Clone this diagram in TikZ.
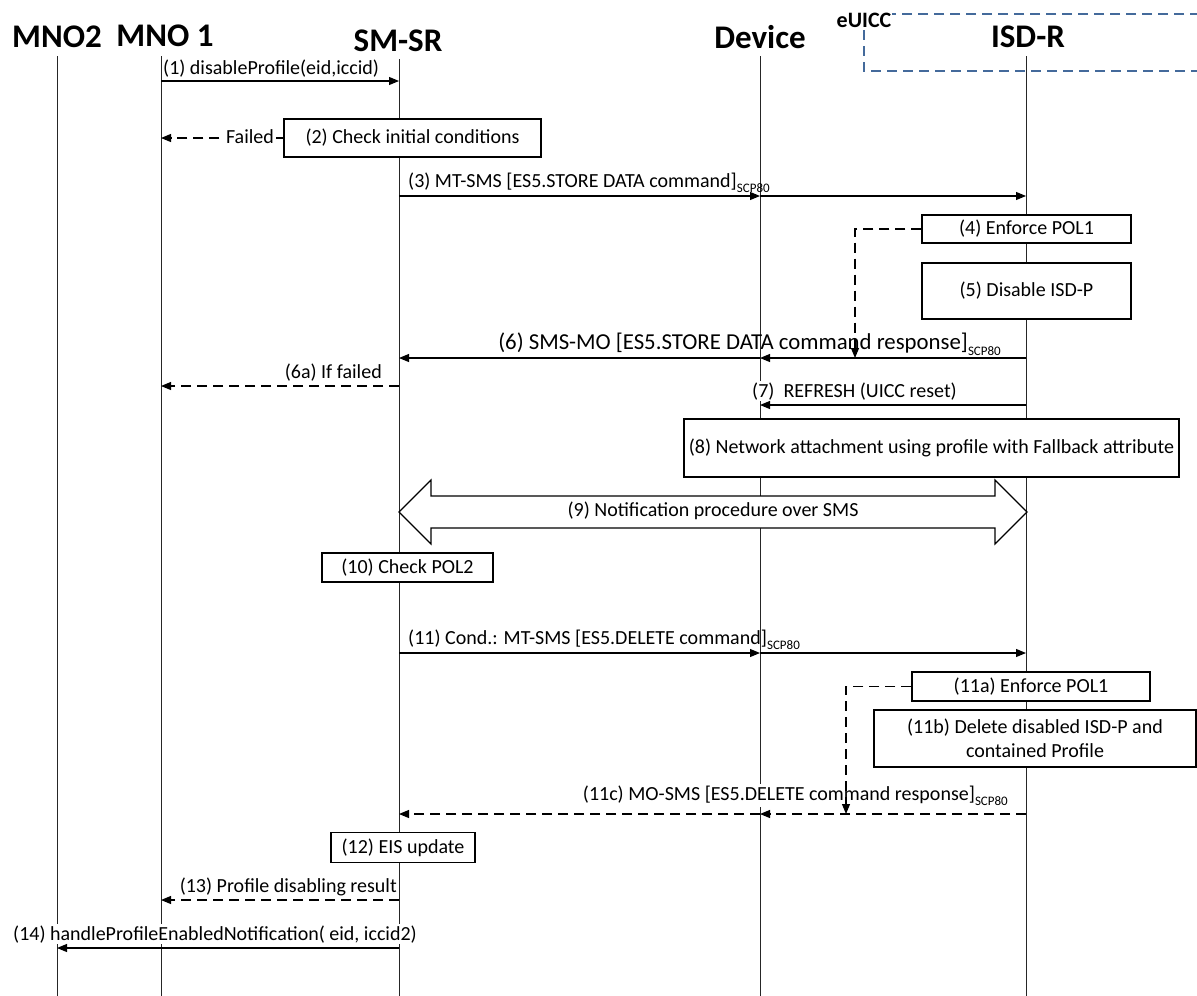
\documentclass[tikz,border=0pt]{standalone}
\usepackage{fontspec}
\setmainfont{Carlito}
\usetikzlibrary{arrows.meta}
\definecolor{euiccblue}{RGB}{68,106,155}
\newcommand\bodyf{\fontsize{20}{24}\selectfont}
\newcommand\bigf{\fontsize{22.8}{26}\selectfont}
\newcommand\hdrf{\fontsize{33}{37}\selectfont\bfseries}
\newcommand\scp{\raisebox{-0.28em}{\fontsize{13}{13}\selectfont SCP80}}
\begin{document}
\begin{tikzpicture}[x=1pt,y=-1pt,
  lifeline/.style={line width=1pt, black!85},
  hdr/.style={font=\hdrf, anchor=base, inner sep=0},
  lbl/.style={font=\bodyf, inner sep=0},
  lblw/.style={font=\bodyf, inner sep=1pt, fill=white},
  msg/.style={line width=1.1pt, -{Triangle[length=10pt,width=8pt]}},
  rmsg/.style={msg, dash pattern=on 10pt off 6pt},
  box/.style={draw, fill=white, line width=1.2pt, font=\bodyf, inner sep=0, align=center},
]
\fill[white] (0,0) rectangle (1197,996);
\useasboundingbox (0,0) rectangle (1197,996);

% eUICC container
\draw[euiccblue, line width=1.5pt, dash pattern=on 10pt off 6pt] (864,14) rectangle (1215,71);
\node[font=\fontsize{22}{24}\selectfont\bfseries, fill=white, inner sep=1pt, anchor=base] (euicc) at (864,27) {eUICC};

% headers
\node[hdr] (hMNO2) at (57,47) {MNO2};
\node[hdr] (hMNO1) at (165,46) {MNO 1};
\node[hdr] (hSMSR) at (398,51) {SM-SR};
\node[hdr] (hDev)  at (760,48) {Device};
\node[hdr] (hISDR) at (1028,47) {ISD-R};

% lifelines
\coordinate (tMNO2) at (57,56);   \coordinate (bMNO2) at (57,996);
\coordinate (tMNO1) at (161,56);  \coordinate (bMNO1) at (161,996);
\coordinate (tSMSR) at (399,59);  \coordinate (bSMSR) at (399,996);
\coordinate (tDev)  at (760,56);  \coordinate (bDev)  at (760,996);
\coordinate (tISDR) at (1026,56); \coordinate (bISDR) at (1026,996);
\draw[lifeline] (tMNO2) -- (bMNO2);
\draw[lifeline] (tMNO1) -- (bMNO1);
\draw[lifeline] (tSMSR) -- (bSMSR);
\draw[lifeline] (tDev) -- (bDev);
\draw[lifeline] (tISDR) -- (bISDR);

% boxes
\node[box, minimum width=257pt, minimum height=38pt] (b2) at (412.5,138) {(2) Check initial conditions};
\node[box, minimum width=209pt, minimum height=28pt] (b4) at (1026.5,229) {(4) Enforce POL1};
\node[box, minimum width=209pt, minimum height=56pt] (b5) at (1026.5,291) {(5) Disable ISD-P};
\node[box, minimum width=495pt, minimum height=58pt] (b8) at (931.5,448) {(8) Network attachment using profile with Fallback attribute};
\node[box, minimum width=171pt, minimum height=29pt] (b10) at (407.5,567.5) {(10) Check POL2};
\node[box, minimum width=238pt, minimum height=29pt] (b11a) at (1031,686.5) {(11a) Enforce POL1};
\node[box, minimum width=322pt, minimum height=57pt] (b11b) at (1035,738.5) {(11b) Delete disabled ISD-P and\\contained Profile};
\node[box, minimum width=144pt, minimum height=30pt] (b12) at (403,847.5) {(12) EIS update};

% (9) block double arrow
\draw[line width=1.2pt, fill=white] (399,512) -- (431,480) -- (431,496) -- (995,496) -- (995,480)
  -- (1027,512) -- (995,544) -- (995,528) -- (431,528) -- (431,544) -- cycle;
\node[lbl] (l9) at (713,511) {(9) Notification procedure over SMS};

% message coordinates
\coordinate (m1a) at (161,81);   \coordinate (m1b) at (399,81);
\coordinate (mF)  at (161,138);
\coordinate (m3a) at (399,196);  \coordinate (m3b) at (760,196);  \coordinate (m3c) at (1026,196);
\coordinate (k4)  at (855,229);  \coordinate (k4e) at (855,358);
\coordinate (m6a) at (1026,358); \coordinate (m6b) at (760,358);  \coordinate (m6c) at (399,358);
\coordinate (m6fa) at (399,386); \coordinate (m6fb) at (161,386);
\coordinate (m7a) at (1026,405); \coordinate (m7b) at (760,405);
\coordinate (m11a) at (399,653); \coordinate (m11b) at (760,653); \coordinate (m11c) at (1026,653);
\coordinate (k11) at (846,686.5); \coordinate (k11e) at (846,814);
\coordinate (m11ca) at (1026,814); \coordinate (m11cb) at (760,814); \coordinate (m11cc) at (399,814);
\coordinate (m13a) at (399,900); \coordinate (m13b) at (161,900);
\coordinate (m14a) at (399,948); \coordinate (m14b) at (57,948);

% labels
\node[lbl, anchor=base west] (l1) at (163,74) {(1) disableProfile(eid,iccid)};
\node[lbl, anchor=base west] (l3) at (408,187) {(3) MT-SMS [ES5.STORE DATA command]\scp};
\node[lbl, font=\bigf, anchor=base east] (l6) at (1001,349.5) {(6) SMS-MO [ES5.STORE DATA command response]\scp};
\node[lbl, anchor=base east] (l6a) at (382,378) {(6a) If failed};
\node[lblw, anchor=base west] (l7) at (751,397) {(7)\ \ REFRESH (UICC reset)};
\node[lbl, anchor=base west] (l11) at (408,644) {(11) Cond.: MT-SMS [ES5.DELETE command]\scp};
\node[lblw, anchor=base east] (l11c) at (1009,800) {(11c) MO-SMS [ES5.DELETE command response]\scp};
\node[lblw, anchor=base east] (l13) at (398,892) {(13) Profile disabling result};
\node[lblw, anchor=base west] (l14) at (12,940) {(14) handleProfileEnabledNotification( eid, iccid2)};

% messages
\draw[msg] (m1a) -- (m1b);
\draw[rmsg] (b2.west) -- (mF);
\node[lblw, inner sep=2pt] (lF) at (250,137) {Failed};
\draw[msg] (m3a) -- (m3b);
\draw[msg] (m3b) -- (m3c);
\draw[msg] (m6a) -- (m6b);
\draw[msg] (m6b) -- (m6c);
\draw[rmsg] (m6fa) -- (m6fb);
\draw[msg] (m7a) -- (m7b);
\draw[msg] (m11a) -- (m11b);
\draw[msg] (m11b) -- (m11c);
\draw[rmsg] (m11ca) -- (m11cb);
\draw[rmsg] (m11cb) -- (m11cc);
\draw[rmsg] (m13a) -- (m13b);
\draw[msg] (m14a) -- (m14b);

% policy connectors
\draw[rmsg] (b4.west) -- (k4) -- (k4e);
\draw[rmsg] (b11a.west) -- (k11) -- (k11e);
\end{tikzpicture}
\end{document}
